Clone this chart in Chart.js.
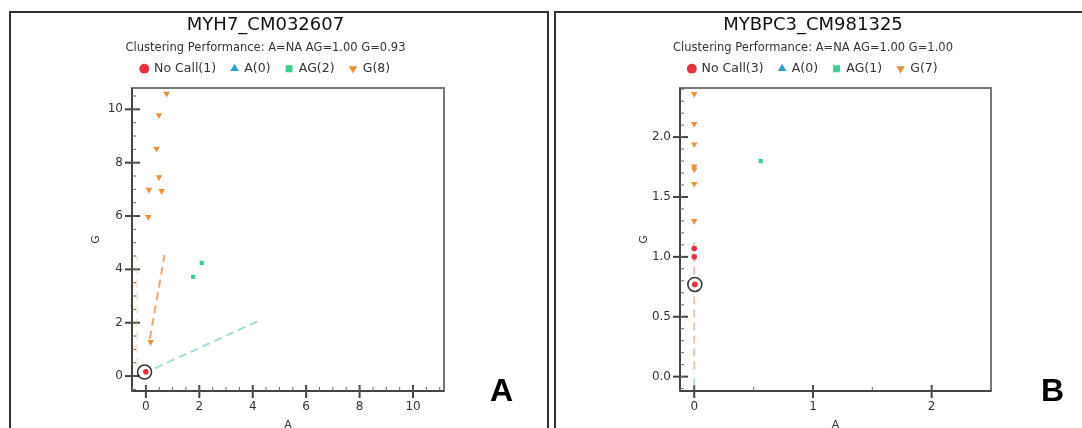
<!DOCTYPE html>
<html>
<head>
<meta charset="utf-8">
<script src="https://cdn.jsdelivr.net/npm/chart.js@4.4.1/dist/chart.umd.min.js"></script>
<style>
  body { margin: 0; background: #fff; width: 1082px; height: 428px; overflow: hidden; position: relative; }
  canvas { position: absolute; top: 0; }
  #chartA { left: 0; }
  #chartB { left: 548px; }
  .panel { position: absolute; top: 11px; height: 500px; border: 2px solid #333; box-sizing: border-box; pointer-events: none; }
  .tag { position: absolute; top: 374px; font: bold 32px 'Liberation Sans', Arial, sans-serif; line-height: 1; color: #000; }
</style>
</head>
<body>
<canvas id="chartA" width="548" height="460"></canvas>
<canvas id="chartB" width="534" height="460"></canvas>
<div class="panel" style="left:9px;width:540px"></div>
<div class="panel" style="left:554px;width:600px"></div>
<div class="tag" style="left:490px">A</div>
<div class="tag" style="left:1041px">B</div>
<script>
// --- panel A: MYH7_CM032607 ---
const titleA = 'MYH7_CM032607';
const perfA = 'Clustering Performance: A=NA AG=1.00 G=0.93';
const legendA = ['No Call(1)', 'A(0)', 'AG(2)', 'G(8)'];
const noCallA_x = [0];
const noCallA_y = [0.16];
const alleleA_x = [];
const alleleA_y = [];
const hetA_x = [2.09, 1.77];
const hetA_y = [4.24, 3.72];
const homA_x = [0.78, 0.49, 0.40, 0.49, 0.11, 0.59, 0.09, 0.18];
const homA_y = [10.59, 9.78, 8.53, 7.46, 6.99, 6.94, 5.97, 1.28];
const ringA_x = [-0.05];
const ringA_y = [0.15];
const guideHomA_x = [0.15, 0.7];
const guideHomA_y = [1.4, 4.55];
const guideHomA2_x = [-0.33, -0.33];
const guideHomA2_y = [0.4, 4.5];
const guideHetA_x = [0.35, 4.2];
const guideHetA_y = [0.3, 2.06];
const ticksA_x = [0, 2, 4, 6, 8, 10];
const ticksA_y = [0, 2, 4, 6, 8, 10];
const rangeA_x = [-0.52, 11.16];
const rangeA_y = [-0.56, 10.8];

// --- panel B: MYBPC3_CM981325 ---
const titleB = 'MYBPC3_CM981325';
const perfB = 'Clustering Performance: A=NA AG=1.00 G=1.00';
const legendB = ['No Call(3)', 'A(0)', 'AG(1)', 'G(7)'];
const noCallB_x = [0, 0, 0.005];
const noCallB_y = [1.07, 1.00, 0.77];
const alleleB_x = [];
const alleleB_y = [];
const hetB_x = [0.56];
const hetB_y = [1.80];
const homB_x = [0, 0, 0, 0, 0, 0, 0];
const homB_y = [2.36, 2.11, 1.94, 1.755, 1.73, 1.61, 1.30];
const ringB_x = [0.005];
const ringB_y = [0.77];
const guideHomB_x = [0, 0];
const guideHomB_y = [0.06, 0.69];
const guideNcB_x = [0, 0];
const guideNcB_y = [0.85, 1.12];
const guideHetB_x = [0, 0];
const guideHetB_y = [-0.08, 0.03];
const ticksB_x = [0, 1, 2];
const ticksB_y = [0, 0.5, 1, 1.5, 2];
const rangeB_x = [-0.12, 2.5];
const rangeB_y = [-0.12, 2.41];

const pts = (xs, ys) => xs.map((x, i) => ({ x: x, y: ys[i] }));

Chart.defaults.font.family = "'DejaVu Sans', sans-serif";
Chart.defaults.color = '#333';

// frame, crossing major ticks and small inner minor ticks
const frameTicks = {
  id: 'frameTicks',
  beforeDatasetsDraw(chart, args, opts) {
    const { ctx, chartArea: a, scales: { x, y } } = chart;
    const seg = (x1, y1, x2, y2) => { ctx.beginPath(); ctx.moveTo(x1, y1); ctx.lineTo(x2, y2); ctx.stroke(); };
    ctx.save();
    ctx.lineWidth = 2;
    ctx.strokeStyle = '#777';
    ctx.strokeRect(a.left, a.top, a.right - a.left, a.bottom - a.top);
    ctx.strokeStyle = '#444';
    seg(a.left, a.top, a.left, a.bottom);
    seg(a.left, a.bottom, a.right, a.bottom);
    x.ticks.forEach(t => { const p = x.getPixelForValue(t.value); seg(p, a.bottom - 6, p, a.bottom + 7); });
    y.ticks.forEach(t => { const p = y.getPixelForValue(t.value); seg(a.left - 7, p, a.left + 8, p); });
    ctx.lineWidth = 1;
    ctx.strokeStyle = '#666';
    for (let i = Math.ceil(x.min / opts.xMinor); i * opts.xMinor <= x.max; i++) {
      const p = x.getPixelForValue(i * opts.xMinor);
      seg(p, a.bottom - 4, p, a.bottom);
    }
    for (let i = Math.ceil(y.min / opts.yMinor); i * opts.yMinor <= y.max; i++) {
      const p = y.getPixelForValue(i * opts.yMinor);
      seg(a.left, p, a.left + 4, p);
    }
    ctx.restore();
  }
};

function guide(data, color) {
  return { data: data, showLine: true, borderColor: color, borderWidth: 2, borderDash: [8, 5], pointRadius: 0, fill: false };
}

function makeChart(id, p) {
  return new Chart(document.getElementById(id), {
    type: 'scatter',
    data: {
      datasets: [
        { data: p.ring, pointStyle: 'circle', pointRadius: 7, backgroundColor: 'rgba(0,0,0,0)', borderColor: '#333', borderWidth: 1.5 },
        { label: p.legend[0], inLegend: true, data: p.noCall, pointStyle: 'circle', pointRadius: 2.8, backgroundColor: '#e5323f', borderColor: '#e5323f', borderWidth: 0 },
        { label: p.legend[1], inLegend: true, data: p.allele, pointStyle: 'triangle', pointRadius: 3.5, backgroundColor: '#2a9fd6', borderColor: '#2a9fd6', borderWidth: 0 },
        { label: p.legend[2], inLegend: true, data: p.het, pointStyle: 'rect', pointRadius: 3, backgroundColor: '#3fd08f', borderColor: '#3fd08f', borderWidth: 0 },
        { label: p.legend[3], inLegend: true, data: p.hom, pointStyle: 'triangle', rotation: 180, pointRadius: 3.8, backgroundColor: '#e8923a', borderColor: '#e8923a', borderWidth: 0 }
      ].concat(p.guides)
    },
    options: {
      responsive: false,
      animation: false,
      layout: { padding: { left: 87, right: p.padRight, top: 10, bottom: 24 } },
      plugins: {
        title: { display: true, text: p.title, color: '#111', font: { size: 18, weight: 'normal' }, padding: { top: 5, bottom: 5 } },
        subtitle: { display: true, text: p.perf, color: '#333', font: { size: 11.5 }, padding: { top: 0, bottom: -8 } },
        legend: {
          labels: {
            usePointStyle: true, boxWidth: 7, boxHeight: 7, padding: 15, color: '#333', font: { size: 12.5 },
            filter: (item, data) => data.datasets[item.datasetIndex].inLegend
          }
        },
        tooltip: { enabled: false },
        frameTicks: { xMinor: p.xMinor, yMinor: p.yMinor }
      },
      scales: {
        x: {
          type: 'linear', position: 'bottom', min: p.rangeX[0], max: p.rangeX[1],
          afterBuildTicks: s => { s.ticks = p.ticksX.map(v => ({ value: v })); },
          afterFit: s => { s.height = 45; },
          grid: { display: false, drawTicks: false }, border: { display: false },
          ticks: { padding: 9, color: '#333', font: { size: 12 }, callback: p.fmtX },
          title: { display: true, text: 'A', color: '#333', font: { size: 11 }, padding: { top: 0, bottom: 4 } }
        },
        y: {
          type: 'linear', position: 'left', min: p.rangeY[0], max: p.rangeY[1],
          afterBuildTicks: s => { s.ticks = p.ticksY.map(v => ({ value: v })); },
          afterFit: s => { s.width = 45; },
          grid: { display: false, drawTicks: false }, border: { display: false },
          ticks: { padding: 9, color: '#333', font: { size: 12 }, callback: p.fmtY },
          title: { display: true, text: 'G', color: '#333', font: { size: 11 }, padding: { top: 3, bottom: 0 } }
        },
        xt: {
          type: 'linear', position: 'top', axis: 'x', display: true,
          ticks: { display: false }, grid: { display: false, drawTicks: false }, border: { display: false },
          afterFit: s => { s.height = 3.1; }
        }
      }
    },
    plugins: [frameTicks]
  });
}

makeChart('chartA', {
  title: titleA, perf: perfA, legend: legendA, padRight: 104,
  ring: pts(ringA_x, ringA_y),
  noCall: pts(noCallA_x, noCallA_y),
  allele: pts(alleleA_x, alleleA_y),
  het: pts(hetA_x, hetA_y),
  hom: pts(homA_x, homA_y),
  guides: [
    guide(pts(guideHomA_x, guideHomA_y), 'rgba(226,150,90,0.8)'),
    guide(pts(guideHomA2_x, guideHomA2_y), 'rgba(240,180,120,0.3)'),
    guide(pts(guideHetA_x, guideHetA_y), 'rgba(120,205,195,0.7)')
  ],
  rangeX: rangeA_x, rangeY: rangeA_y, ticksX: ticksA_x, ticksY: ticksA_y,
  xMinor: 0.5, yMinor: 0.5,
  fmtX: v => String(v), fmtY: v => String(v)
});

makeChart('chartB', {
  title: titleB, perf: perfB, legend: legendB, padRight: 91,
  ring: pts(ringB_x, ringB_y),
  noCall: pts(noCallB_x, noCallB_y),
  allele: pts(alleleB_x, alleleB_y),
  het: pts(hetB_x, hetB_y),
  hom: pts(homB_x, homB_y),
  guides: [
    guide(pts(guideHomB_x, guideHomB_y), 'rgba(215,175,130,0.7)'),
    guide(pts(guideNcB_x, guideNcB_y), 'rgba(230,120,120,0.5)'),
    guide(pts(guideHetB_x, guideHetB_y), 'rgba(120,210,160,0.6)')
  ],
  rangeX: rangeB_x, rangeY: rangeB_y, ticksX: ticksB_x, ticksY: ticksB_y,
  xMinor: 0.5, yMinor: 0.1,
  fmtX: v => String(v), fmtY: v => v.toFixed(1)
});
</script>
</body>
</html>
